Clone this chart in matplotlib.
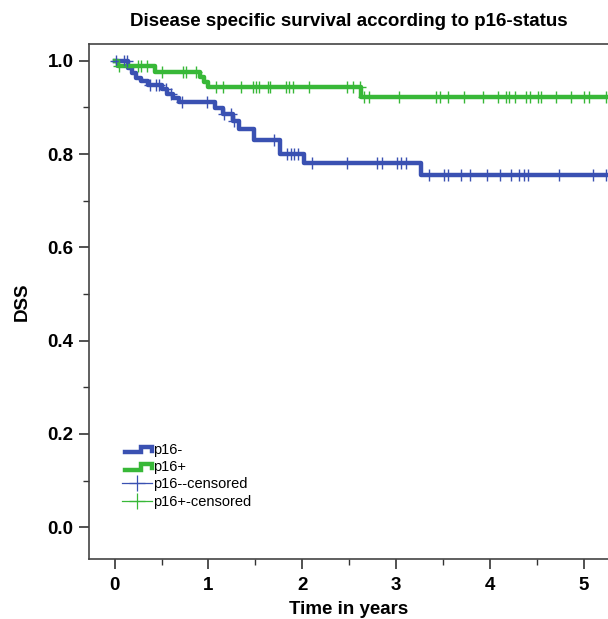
import numpy as np
import matplotlib
matplotlib.use("Agg")
from matplotlib import pyplot as plt
from matplotlib.lines import Line2D
from matplotlib.legend_handler import HandlerBase

plt.rcParams['font.family'] = ['Liberation Sans', 'DejaVu Sans']

# Kaplan-Meier step data (time in years, survival after step)
neg_times = [0.0, 0.14, 0.19, 0.23, 0.28, 0.36, 0.51, 0.56, 0.62, 0.69,
             1.07, 1.15, 1.26, 1.33, 1.49, 1.76, 2.02, 3.26]
neg_surv = [1.0, 0.985, 0.974, 0.964, 0.957, 0.949, 0.939, 0.928, 0.92, 0.911,
            0.899, 0.885, 0.871, 0.853, 0.831, 0.800, 0.780, 0.756]
pos_times = [0.0, 0.04, 0.43, 0.91, 0.95, 0.99, 2.62]
pos_surv = [1.0, 0.988, 0.975, 0.965, 0.955, 0.944, 0.923]

# censored observations
neg_cens = [0.02, 0.10, 0.13, 0.38, 0.44, 0.47, 0.55, 0.60, 0.72, 0.98,
            1.17, 1.24, 1.27, 1.70, 1.84, 1.88, 1.91, 1.95, 2.10, 2.48,
            2.80, 2.85, 3.01, 3.05, 3.10, 3.35, 3.51, 3.55, 3.69, 3.79,
            3.97, 4.10, 4.22, 4.31, 4.36, 4.40, 4.73, 5.09, 5.23]
pos_cens = [0.05, 0.25, 0.28, 0.34, 0.50, 0.73, 0.76, 0.87, 1.08, 1.15,
            1.35, 1.47, 1.51, 1.54, 1.63, 1.65, 1.83, 1.86, 1.90, 2.07,
            2.48, 2.54, 2.61, 2.66, 2.71, 3.03, 3.42, 3.47, 3.55, 3.72,
            3.92, 4.08, 4.17, 4.20, 4.26, 4.38, 4.42, 4.51, 4.54, 4.70,
            4.86, 5.00, 5.05, 5.23]

x_end = 5.3
blue = '#3a51b2'
green = '#38b838'


def surv_at(times, surv, t):
    idx = np.searchsorted(times, t, side='right') - 1
    return np.asarray(surv)[idx]


class StepHandler(HandlerBase):
    def create_artists(self, legend, orig_handle, xdescent, ydescent,
                       width, height, fontsize, trans):
        w, h = width, height
        x0 = -xdescent + 0.1 * w
        xs = [x0, x0 + 0.55 * w, x0 + 0.55 * w, x0 + 0.9 * w, x0 + 0.9 * w]
        ys = [0.15 * h, 0.15 * h, 0.7 * h, 0.7 * h, 0.3 * h]
        ln = Line2D(xs, ys, color=orig_handle.get_color(), lw=orig_handle.get_linewidth(),
                    solid_joinstyle='miter', transform=trans)
        return [ln]


fig = plt.figure(figsize=(6.08, 6.19), dpi=100)
ax = fig.add_axes([0.146, 0.097, 0.854, 0.832])

t_neg = np.append(neg_times, x_end)
s_neg = np.append(neg_surv, neg_surv[-1])
t_pos = np.append(pos_times, x_end)
s_pos = np.append(pos_surv, pos_surv[-1])

ax.step(t_neg, s_neg, where='post', color=blue, lw=3.2)
ax.step(t_pos, s_pos, where='post', color=green, lw=3.2)

ax.plot(neg_cens, surv_at(neg_times, neg_surv, neg_cens), '+', color=blue,
        ms=8, mew=1.0)
ax.plot(pos_cens, surv_at(pos_times, pos_surv, pos_cens), '+', color=green,
        ms=8, mew=1.0)

ax.set_xlim(-0.275, 5.255)
ax.set_ylim(-0.068, 1.036)

ax.set_xticks(range(0, 6))
ax.set_xticks(np.arange(0.5, 5.5, 1.0), minor=True)
ax.set_yticks(np.arange(0, 1.01, 0.2))
ax.set_yticks(np.arange(0.1, 1.0, 0.2), minor=True)
ax.set_yticklabels(['%.1f' % v for v in np.arange(0, 1.01, 0.2)])

ax.tick_params(axis='both', which='major', direction='out', length=7, width=1.2,
               labelsize=13.5, color='#333333')
ax.tick_params(axis='both', which='minor', direction='out', length=4, width=1.0, color='#333333')
ax.tick_params(axis='x', pad=6)
ax.tick_params(axis='y', pad=4)
for lab in ax.get_xticklabels() + ax.get_yticklabels():
    lab.set_fontweight('bold')

for side in ['left', 'bottom', 'top']:
    ax.spines[side].set_color('#444444')
    ax.spines[side].set_linewidth(1.2)
ax.spines['right'].set_visible(False)

ax.set_title('Disease specific survival according to p16-status', fontsize=13.5,
             fontweight='bold', pad=13)
ax.set_xlabel('Time in years', fontsize=13.5, fontweight='bold', labelpad=5)
ax.set_ylabel('DSS', fontsize=13.5, fontweight='bold', labelpad=12)

h_neg = Line2D([], [], color=blue, lw=3.2)
h_pos = Line2D([], [], color=green, lw=3.2)
h_cneg = Line2D([], [], color=blue, lw=0.9, marker='+', ms=11, mew=0.9)
h_cpos = Line2D([], [], color=green, lw=0.9, marker='+', ms=11, mew=0.9)
ax.legend([h_neg, h_pos, h_cneg, h_cpos],
          ['p16-', 'p16+', 'p16--censored', 'p16+-censored'],
          handler_map={h_neg: StepHandler(), h_pos: StepHandler()},
          loc='upper left', bbox_to_anchor=(0.045, 0.245), frameon=False,
          fontsize=10.5, handlelength=2.0, handletextpad=0.12, labelspacing=0.22,
          borderpad=0.2)

fig.savefig('out.png', dpi=100)
